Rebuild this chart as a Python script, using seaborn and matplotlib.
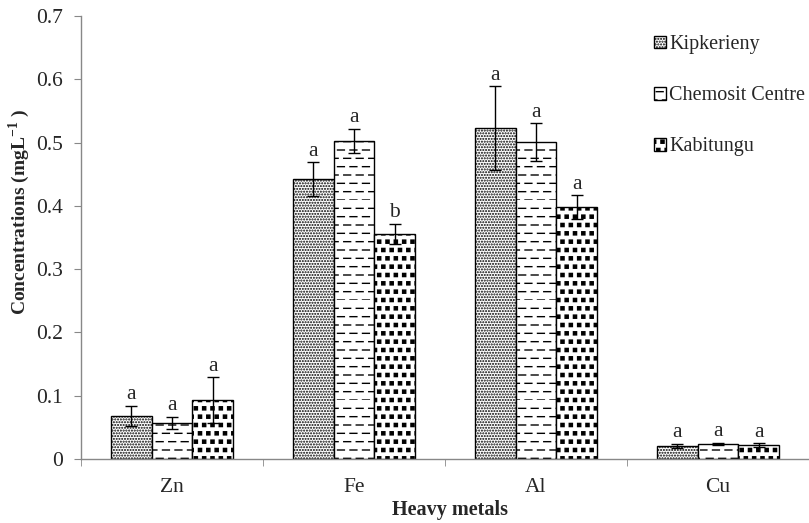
import matplotlib
matplotlib.use('Agg')
import matplotlib.pyplot as plt
import numpy as np
import pandas as pd
import seaborn as sns
from matplotlib import hatch as mhatch
from matplotlib.path import Path

# data
metals = ['Zn', 'Fe', 'Al', 'Cu']
sites = ['Kipkerieny', 'Chemosit Centre', 'Kabitungu']
kipkerieny = [0.068, 0.442, 0.523, 0.021]
chemosit = [0.057, 0.503, 0.501, 0.024]
kabitungu = [0.093, 0.356, 0.398, 0.022]
kipkerieny_err = [0.016, 0.027, 0.066, 0.003]
chemosit_err = [0.010, 0.019, 0.030, 0.002]
kabitungu_err = [0.036, 0.016, 0.019, 0.003]
kipkerieny_lab = ['a', 'a', 'a', 'a']
chemosit_lab = ['a', 'a', 'a', 'a']
kabitungu_lab = ['a', 'b', 'a', 'a']


# extra hatch patterns: dashed rows ('_') and big square dots ('@')
class DashRows(mhatch.HatchPatternBase):
    def __init__(self, hatch, density):
        self.num_rows = int(hatch.count('_') * density)
        self.num_dash = 8
        self.num_vertices = self.num_rows * self.num_dash * 2

    def set_vertices_and_codes(self, vertices, codes):
        step = 1.0 / self.num_dash
        k = 0
        for r in range(self.num_rows):
            y = r / self.num_rows
            shift = step / 2 if r % 2 else 0
            for d in range(self.num_dash):
                x0 = d * step + shift
                vertices[k] = (x0, y)
                vertices[k + 1] = (x0 + step * 0.55, y)
                codes[k] = Path.MOVETO
                codes[k + 1] = Path.LINETO
                k += 2


class BigDots(mhatch.Shapes):
    size = 0.38
    filled = True

    def __init__(self, hatch, density):
        self.num_rows = hatch.count('@') * density
        path = Path.unit_rectangle()
        self.shape_vertices = path.vertices - 0.5
        self.shape_codes = path.codes
        super().__init__(hatch, density)


mhatch._hatch_types.extend([DashRows, BigDots])
hatches = ['......', '__', '@@']

values = [kipkerieny, chemosit, kabitungu]
errors = [kipkerieny_err, chemosit_err, kabitungu_err]
letters = [kipkerieny_lab, chemosit_lab, kabitungu_lab]

rows = []
for s, vals in zip(sites, values):
    for m, v in zip(metals, vals):
        rows.append({'metal': m, 'site': s, 'value': v})
df = pd.DataFrame(rows)

sns.set_style('white')
plt.rcParams['font.family'] = ['Liberation Serif', 'DejaVu Serif']
plt.rcParams['mathtext.fontset'] = 'custom'
plt.rcParams['mathtext.rm'] = 'Liberation Serif'
plt.rcParams['mathtext.bf'] = 'Liberation Serif:bold'
plt.rcParams['hatch.linewidth'] = 1.0
fs = 15.5

fig = plt.figure(figsize=(8.09, 5.23), dpi=100)
ax = fig.add_axes([81 / 809, (523 - 459) / 523, (809 - 81) / 809, (459 - 16) / 523])

sns.barplot(data=df, x='metal', y='value', hue='site', order=metals, hue_order=sites,
            palette=['white'] * 3, edgecolor='black', linewidth=1, width=0.67,
            saturation=1, errorbar=None, ax=ax)

for cont, h, errs, labs in zip(ax.containers, hatches, errors, letters):
    for bar, e, lab in zip(cont, errs, labs):
        bar.set_hatch(h)
        x = bar.get_x() + bar.get_width() / 2
        y = bar.get_height()
        ax.errorbar(x, y, yerr=e, fmt='none', ecolor='black', elinewidth=1,
                    capsize=4, capthick=1)
        ax.annotate(lab, (x, y + e), xytext=(0, 1), textcoords='offset points',
                    ha='center', va='bottom', fontsize=fs)

ax.set_ylim(0, 0.7)
ax.set_xlim(-0.5, 3.5 - 11 / 185)
ax.set_yticks([0, 0.1, 0.2, 0.3, 0.4, 0.5, 0.6, 0.7])
ax.set_yticklabels(['0', '0.1', '0.2', '0.3', '0.4', '0.5', '0.6', '0.7'])
ax.set_xticks(range(len(metals)))
ax.set_xticklabels(metals)
ax.set_xticks([-0.5, 0.5, 1.5, 2.5, 3.5], minor=True)
ax.tick_params(axis='x', which='major', length=0, labelsize=fs, pad=14)
ax.tick_params(axis='x', which='minor', length=5, color='#888888', direction='out', bottom=True)
ax.tick_params(axis='y', length=5, color='#888888', direction='out', left=True, labelsize=fs, pad=8)

for side in ['top', 'right']:
    ax.spines[side].set_visible(False)
for side in ['left', 'bottom']:
    ax.spines[side].set_color('#888888')
    ax.spines[side].set_linewidth(1)

ax.set_xlabel('Heavy metals', fontsize=14.5, fontweight='bold')
ax.set_ylabel(r'Concentrations (mgL$^{\mathbf{-1}}$ )', fontsize=14, fontweight='bold')
ax.xaxis.set_label_coords(0.507, -0.0925)
ax.yaxis.set_label_coords(-0.067, 0.558)

handles, labels = ax.get_legend_handles_labels()
leg = ax.legend(handles, labels, loc='upper left', bbox_to_anchor=(654 / 809, 1 - 35 / 523),
                bbox_transform=fig.transFigure, frameon=False, fontsize=14.5,
                handlelength=0.6, handleheight=0.6, handletextpad=0.15, labelspacing=1.6,
                borderaxespad=0, borderpad=0)
for hnd, h in zip(leg.legend_handles, hatches):
    hnd.set_hatch(h)
    hnd.set_edgecolor('black')
    hnd.set_facecolor('white')

fig.savefig('out.png', dpi=100)
